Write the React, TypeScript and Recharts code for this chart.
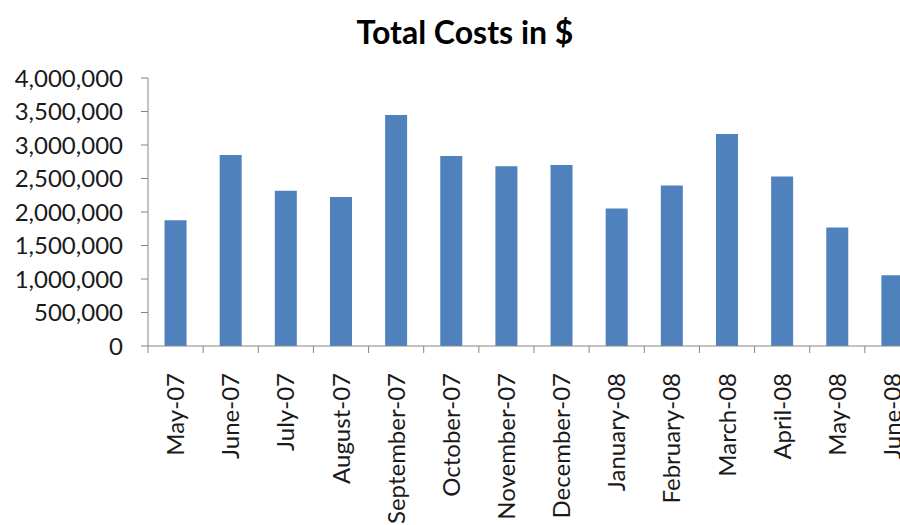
import { BarChart, Bar, XAxis, YAxis } from "recharts";

const months = [
  "May-07",
  "June-07",
  "July-07",
  "August-07",
  "September-07",
  "October-07",
  "November-07",
  "December-07",
  "January-08",
  "February-08",
  "March-08",
  "April-08",
  "May-08",
  "June-08"
];

const totalCosts = [
  1876000, 2851000, 2319000, 2224000, 3448000, 2836000, 2682000,
  2701000, 2051000, 2394000, 3164000, 2528000, 1767000, 1055000
];

const yTicks = [0, 500000, 1000000, 1500000, 2000000, 2500000, 3000000, 3500000, 4000000];

const data = months.map((month, i) => ({ month, cost: totalCosts[i] }));

const FONT = "Lato, 'Open Sans', sans-serif";
const AXIS = "#868686";

// label at the band centre, tick mark at the band's left edge (Excel style)
function MonthTick({ x, y, payload }: any) {
  const half = payload?.offset ?? 0;
  return (
    <g transform={`translate(${x},${y})`}>
      {half > 0 && <line x1={-half} x2={-half} y1={0} y2={7} stroke={AXIS} />}
      <text
        transform="rotate(-90)"
        x={-27}
        dy="0.36em"
        textAnchor="end"
        fill="#1a1a1a"
        fontSize={24}
        fontFamily={FONT}
      >
        {payload.value}
      </text>
    </g>
  );
}

export default function App() {
  return (
    <div
      style={{
        position: "fixed",
        left: 0,
        top: 0,
        width: 900,
        height: 525,
        overflow: "hidden",
        background: "#fff"
      }}
    >
      <div
        style={{
          position: "absolute",
          left: 0,
          top: 12,
          width: 930,
          textAlign: "center",
          fontFamily: FONT,
          fontWeight: 700,
          fontSize: 32,
          color: "#000",
          lineHeight: "40px"
        }}
      >
        Total Costs in $
      </div>
      <BarChart
        width={920}
        height={525}
        data={data}
        margin={{ top: 78, right: 0, bottom: 0, left: 0 }}
        barCategoryGap="30%"
      >
        <XAxis
          dataKey="month"
          interval={0}
          tickLine={false}
          tickSize={0}
          tickMargin={0}
          axisLine={{ stroke: AXIS }}
          tick={MonthTick}
          height={179}
        />
        <YAxis
          domain={[0, 4000000]}
          ticks={yTicks}
          interval={0}
          width={148}
          tickSize={7}
          tickMargin={18}
          axisLine={{ stroke: AXIS }}
          tickLine={{ stroke: AXIS }}
          tick={{ fontSize: 24, fill: "#1a1a1a", fontFamily: FONT }}
          tickFormatter={(v: number) => v.toLocaleString("en-US")}
        />
        <Bar dataKey="cost" fill="#4F81BD" isAnimationActive={false} />
      </BarChart>
    </div>
  );
}
